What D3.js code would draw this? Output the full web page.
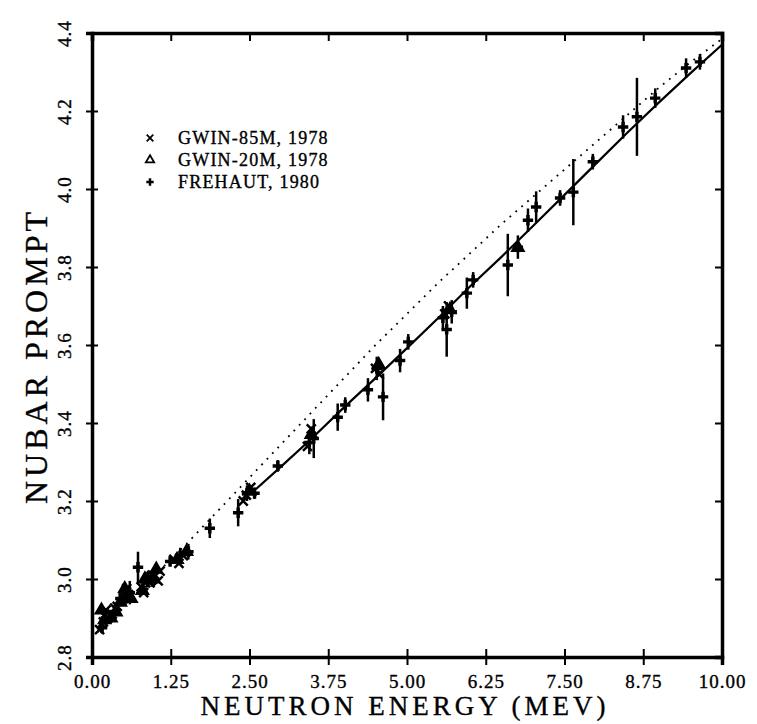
<!DOCTYPE html>
<html>
<head>
<meta charset="utf-8">
<script src="https://cdn.jsdelivr.net/npm/d3@7"></script>
<style>
body { margin: 0; background: #fff; }
svg { display: block; }
text { font-family: "Liberation Serif", "Times New Roman", serif; fill: #000; stroke: #000; stroke-width: 0.35px; }
</style>
</head>
<body>
<svg width="757" height="724"></svg>
<script>
// tick labels
const xTicks = [0, 1.25, 2.5, 3.75, 5, 6.25, 7.5, 8.75, 10];
const yTicks = [2.8, 3.0, 3.2, 3.4, 3.6, 3.8, 4.0, 4.2, 4.4];

// FREHAUT, 1980 (+ with error bars)
const frehautE   = [0.16, 0.22, 0.45, 0.60, 0.73, 0.95, 1.24, 1.40, 1.53, 1.87, 2.32, 2.46, 2.58, 2.95, 3.45, 3.52, 3.90, 4.02, 4.38, 4.52, 4.62, 4.89, 5.02, 5.57, 5.63, 5.71, 5.95, 6.05, 6.60, 6.76, 6.92, 7.05, 7.43, 7.64, 7.95, 8.43, 8.65, 8.94, 9.43, 9.65];
const frehautV   = [2.875, 2.90, 2.95, 2.965, 3.03, 3.00, 3.045, 3.06, 3.07, 3.13, 3.17, 3.22, 3.22, 3.29, 3.35, 3.36, 3.415, 3.446, 3.485, 3.54, 3.467, 3.56, 3.608, 3.67, 3.64, 3.685, 3.733, 3.767, 3.805, 3.851, 3.92, 3.954, 3.977, 3.992, 4.07, 4.159, 4.185, 4.233, 4.31, 4.326];
const frehautErr = [0.015, 0.02, 0.02, 0.03, 0.04, 0.02, 0.01, 0.02, 0.02, 0.025, 0.035, 0.02, 0.015, 0.015, 0.03, 0.05, 0.035, 0.02, 0.03, 0.03, 0.06, 0.03, 0.02, 0.03, 0.07, 0.03, 0.04, 0.02, 0.08, 0.03, 0.03, 0.04, 0.02, 0.085, 0.02, 0.03, 0.10, 0.025, 0.025, 0.02];

// GWIN-85M, 1978 (x)
const gwin85E = [0.12, 0.18, 0.22, 0.25, 0.32, 0.36, 0.40, 0.50, 0.55, 0.58, 0.78, 0.82, 0.85, 0.92, 0.96, 1.00, 1.05, 1.08, 1.30, 1.38, 1.45, 2.40, 2.45, 2.52, 3.42, 3.48, 4.50, 4.56, 5.60, 5.66];
const gwin85V = [2.87, 2.89, 2.92, 2.90, 2.91, 2.925, 2.93, 2.95, 2.975, 2.96, 2.98, 2.965, 2.99, 2.99, 3.01, 3.01, 2.995, 3.02, 3.05, 3.04, 3.06, 3.2, 3.215, 3.235, 3.34, 3.385, 3.54, 3.525, 3.68, 3.70];

// GWIN-20M, 1978 (triangle)
const gwin20E = [0.15, 0.20, 0.30, 0.38, 0.45, 0.52, 0.55, 0.62, 0.80, 0.84, 0.88, 0.98, 1.02, 1.35, 1.50, 2.50, 3.48, 4.55, 5.68, 6.76];
const gwin20V = [2.92, 2.895, 2.90, 2.915, 2.94, 2.975, 2.96, 2.95, 2.97, 3.0, 3.00, 3.00, 3.025, 3.05, 3.07, 3.225, 3.37, 3.55, 3.69, 3.85];

// evaluated curves
const solidE = [2.6, 3.0, 3.5, 4.0, 4.5, 5.0, 5.5, 6.0, 6.5, 7.0, 7.5, 8.0, 8.5, 9.0, 9.5, 10];
const solidV = [3.23, 3.288, 3.362, 3.44, 3.515, 3.592, 3.67, 3.75, 3.826, 3.905, 3.985, 4.065, 4.145, 4.222, 4.297, 4.37];
const dotE = [0, 0.5, 1.0, 1.5, 2.0, 2.5, 3.0, 3.5, 4.0, 4.5, 5.0, 5.5, 6.0, 6.5, 7.0, 7.5, 8.0, 8.5, 9.0, 9.5, 10];
const dotV = [2.85, 2.93, 3.01, 3.09, 3.175, 3.26, 3.345, 3.43, 3.515, 3.6, 3.68, 3.76, 3.835, 3.91, 3.98, 4.05, 4.12, 4.19, 4.26, 4.325, 4.385];

const legendLabels = ["GWIN-85M, 1978", "GWIN-20M, 1978", "FREHAUT, 1980"];

const svg = d3.select("svg");
const width = +svg.attr("width");
const height = +svg.attr("height");
const margin = { top: 33, right: 35, bottom: 67, left: 92 };
const innerWidth = width - margin.left - margin.right;
const innerHeight = height - margin.top - margin.bottom;
const g = svg.append("g").attr("transform", "translate(" + margin.left + "," + margin.top + ")");

const x = d3.scaleLinear().domain([0, 10]).range([0, innerWidth]);
const y = d3.scaleLinear().domain([2.8, 4.4]).range([innerHeight, 0]);

// curves
const line = d3.line().x(d => x(d[0])).y(d => y(d[1]));
g.append("path")
  .datum(dotE.map((e, i) => [e, dotV[i]]))
  .attr("d", line).attr("fill", "none").attr("stroke", "#000")
  .attr("stroke-width", 1.8).attr("stroke-dasharray", "1.8,6");
g.append("path")
  .datum(solidE.map((e, i) => [e, solidV[i]]))
  .attr("d", line).attr("fill", "none").attr("stroke", "#000").attr("stroke-width", 2.2);

// error bars + FREHAUT points
const fre = frehautE.map((e, i) => ({ e: e, v: frehautV[i], err: frehautErr[i] }));
g.selectAll(".ebar").data(fre).enter().append("line")
  .attr("x1", d => x(d.e)).attr("x2", d => x(d.e))
  .attr("y1", d => y(d.v - d.err)).attr("y2", d => y(d.v + d.err))
  .attr("stroke", "#000").attr("stroke-width", 2.5);
const plus = d3.symbol().type(d3.symbolCross).size(60);
g.selectAll(".fre").data(fre).enter().append("path")
  .attr("d", plus)
  .attr("transform", d => "translate(" + x(d.e) + "," + y(d.v) + ")")
  .attr("fill", "#000");

const times = d3.symbol().type(d3.symbolTimes).size(55);
g.selectAll(".g85").data(gwin85E).enter().append("path")
  .attr("d", times)
  .attr("transform", (d, i) => "translate(" + x(d) + "," + y(gwin85V[i]) + ")")
  .attr("fill", "none").attr("stroke", "#000").attr("stroke-width", 2.5);

const tri = d3.symbol().type(d3.symbolTriangle).size(60);
g.selectAll(".g20").data(gwin20E).enter().append("path")
  .attr("d", tri)
  .attr("transform", (d, i) => "translate(" + x(d) + "," + y(gwin20V[i]) + ")")
  .attr("fill", "#000").attr("stroke", "#000").attr("stroke-width", 2);

// axes
const fmtX = d3.format(".2f");
const xAxis = g.append("g").attr("transform", "translate(0," + innerHeight + ")")
  .call(d3.axisBottom(x).tickValues(xTicks).tickFormat(fmtX).tickSize(8).tickPadding(10));
xAxis.selectAll(".tick line").attr("y1", -8).attr("y2", 8).attr("stroke-width", 2);
xAxis.selectAll("text").attr("font-size", 19).attr("letter-spacing", 1)
  .attr("font-family", "Liberation Serif, serif");

const yAxis = g.append("g")
  .call(d3.axisLeft(y).tickValues(yTicks).tickFormat(d3.format(".1f")).tickSize(6));
yAxis.selectAll(".tick line").attr("x1", -6).attr("x2", 6).attr("stroke-width", 2);
yAxis.selectAll("text")
  .attr("font-size", 19).attr("letter-spacing", 1).attr("font-family", "Liberation Serif, serif")
  .attr("text-anchor", "middle").attr("x", null)
  .attr("transform", "translate(-28,0) rotate(-90)").attr("dy", "0.35em");

g.append("g")
  .call(d3.axisTop(x).tickValues(xTicks).tickFormat("").tickSize(-8))
  .selectAll(".tick line").attr("stroke-width", 2);
g.append("g").attr("transform", "translate(" + innerWidth + ",0)")
  .call(d3.axisRight(y).tickValues(yTicks).tickFormat("").tickSize(-7))
  .selectAll(".tick line").attr("stroke-width", 2);

g.selectAll(".domain").attr("stroke-width", 3.5).attr("stroke", "#000");
g.selectAll(".tick line").attr("stroke", "#000");

// axis titles
svg.append("text")
  .attr("x", margin.left + innerWidth / 2 - 2).attr("y", 715)
  .attr("text-anchor", "middle").attr("font-size", 27).attr("letter-spacing", 4)
  .text("NEUTRON ENERGY (MEV)");
svg.append("text")
  .attr("transform", "translate(47,356) rotate(-90)")
  .attr("text-anchor", "middle").attr("font-size", 32).attr("letter-spacing", 4)
  .text("NUBAR PROMPT");

// legend
const legend = svg.append("g").attr("transform", "translate(150,138)");
legendLabels.forEach(function (lab, i) {
  const row = legend.append("g").attr("transform", "translate(0," + (i * 22) + ")");
  if (i === 0) row.append("path").attr("d", d3.symbol().type(d3.symbolTimes).size(30)).attr("fill", "none").attr("stroke", "#000").attr("stroke-width", 1.8);
  if (i === 1) row.append("path").attr("d", d3.symbol().type(d3.symbolTriangle).size(30)).attr("fill", "none").attr("stroke", "#000").attr("stroke-width", 1.8);
  if (i === 2) row.append("path").attr("d", d3.symbol().type(d3.symbolCross).size(30)).attr("fill", "#000");
  row.append("text").attr("x", 28).attr("dy", "0.35em")
    .attr("font-size", 18).attr("letter-spacing", 1.2).text(lab);
});
</script>
</body>
</html>
